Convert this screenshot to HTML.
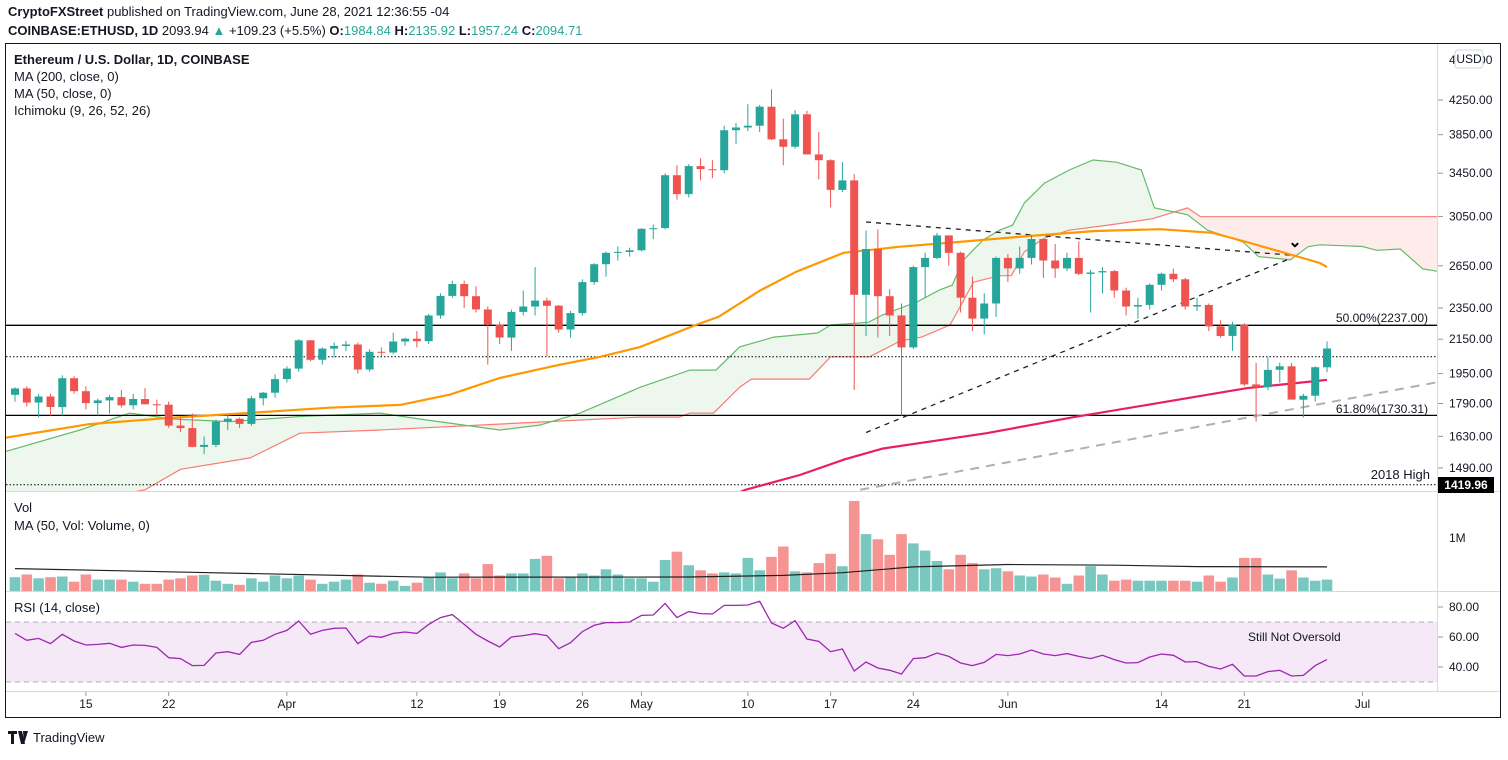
<!DOCTYPE html>
<html><head><meta charset="utf-8"><style>
body{margin:0;background:#fff;width:1508px;height:755px;overflow:hidden;font-family:"Liberation Sans",sans-serif}
svg text{font-family:"Liberation Sans",sans-serif}
</style></head><body>
<svg id="c" width="1508" height="755" xmlns="http://www.w3.org/2000/svg">
<defs>
<clipPath id="mainClip"><rect x="6" y="45" width="1431" height="446"/></clipPath>
<clipPath id="volClip"><rect x="6" y="492" width="1431" height="99"/></clipPath>
</defs>
<rect x="0" y="0" width="1508" height="755" fill="#fff"/>
<text x="8" y="16" font-size="13" fill="#131722"><tspan font-weight="bold">CryptoFXStreet</tspan> published on TradingView.com, June 28, 2021 12:36:55 -04</text>
<text x="8" y="35" font-size="13" fill="#131722"><tspan font-weight="bold">COINBASE:ETHUSD, 1D</tspan> 2093.94 <tspan fill="#26a69a">▲</tspan> +109.23 (+5.5%) <tspan font-weight="bold">O:</tspan><tspan fill="#26a69a">1984.84</tspan> <tspan font-weight="bold">H:</tspan><tspan fill="#26a69a">2135.92</tspan> <tspan font-weight="bold">L:</tspan><tspan fill="#26a69a">1957.24</tspan> <tspan font-weight="bold">C:</tspan><tspan fill="#26a69a">2094.71</tspan></text>
<rect x="5.5" y="43.5" width="1495" height="674" fill="none" stroke="#131722" stroke-width="1"/>
<line x1="1437.5" y1="44" x2="1437.5" y2="691" stroke="#d9d9d9"/>
<line x1="6" y1="491.5" x2="1500" y2="491.5" stroke="#d9d9d9"/>
<line x1="6" y1="591.5" x2="1500" y2="591.5" stroke="#d9d9d9"/>
<line x1="6" y1="691.5" x2="1500" y2="691.5" stroke="#d9d9d9"/>
<g id="cloud" clip-path="url(#mainClip)"></g>
<g id="main" clip-path="url(#mainClip)"></g>
<g id="vol" clip-path="url(#volClip)"></g>
<g id="rsi"></g>
<g id="axes"></g>
<text x="14" y="64" font-size="13" font-weight="bold" fill="#131722">Ethereum / U.S. Dollar, 1D, COINBASE</text>
<text x="14" y="81" font-size="13" fill="#131722">MA (200, close, 0)</text>
<text x="14" y="98" font-size="13" fill="#131722">MA (50, close, 0)</text>
<text x="14" y="115" font-size="13" fill="#131722">Ichimoku (9, 26, 52, 26)</text>
<text x="14" y="512" font-size="13" fill="#131722">Vol</text>
<text x="14" y="530" font-size="13" fill="#131722">MA (50, Vol: Volume, 0)</text>
<text x="14" y="612" font-size="13" fill="#131722">RSI (14, close)</text>
<text x="1248" y="641" font-size="12" fill="#131722">Still Not Oversold</text>
<text x="1428" y="322" font-size="12" text-anchor="end" fill="#131722">50.00%(2237.00)</text>
<text x="1428" y="413" font-size="12" text-anchor="end" fill="#131722">61.80%(1730.31)</text>
<text x="1430" y="479" font-size="13" text-anchor="end" fill="#131722">2018 High</text>
<text x="1295" y="247" font-size="16" font-weight="bold" text-anchor="middle" fill="#000">⌄</text>
<text x="1449" y="64" font-size="12" fill="#131722">4650.00</text>
<rect x="1455" y="50" width="28" height="18" rx="3" fill="#fff" stroke="#d1d4dc"/>
<text x="1469" y="63" font-size="12" text-anchor="middle" fill="#131722">USD</text>
<rect x="1438" y="477" width="56" height="16" fill="#000"/>
<text x="1466" y="489" font-size="12" font-weight="bold" text-anchor="middle" fill="#fff">1419.96</text>
<text x="1449" y="542" font-size="12" fill="#131722">1M</text>
<g>
<path d="M8 731h9v3h-3v10h-3v-10h-3z M18 731h4l3 13h-4z M23 731h5l-4 13z" fill="#131722"/>
<text x="33" y="742" font-size="13" fill="#131722">TradingView</text>
</g>
</svg>
<script>
const days=[...Array(112).keys()];
const opens=[1835,1869,1795,1826,1772,1924,1854,1792,1806,1823,1781,1813,1786,1784,1681,1669,1582,1591,1700,1714,1689,1817,1846,1919,1977,2143,2027,2093,2109,2118,1972,2074,2070,2136,2153,2138,2300,2432,2516,2430,2340,2241,2160,2324,2360,2400,2365,2210,2316,2530,2662,2750,2757,2770,2945,2950,3430,3250,3520,3490,3480,3900,3930,3950,4170,3800,3720,4080,3640,3580,3290,3380,2440,2780,2430,2300,2100,2640,2710,2890,2750,2420,2280,2380,2710,2630,2710,2860,2690,2630,2710,2590,2600,2610,2470,2360,2370,2510,2590,2550,2360,2370,2230,2170,2240,1890,1875,1970,1990,1810,1830,1985];
const highs=[1875,1880,1840,1840,1940,1935,1880,1815,1835,1860,1840,1870,1810,1800,1720,1740,1630,1710,1730,1720,1830,1850,1945,1990,2150,2145,2100,2130,2140,2130,2090,2100,2190,2160,2200,2310,2450,2540,2540,2500,2360,2260,2340,2470,2640,2420,2370,2330,2550,2670,2760,2800,2790,2950,2980,3450,3530,3540,3600,3580,3950,3980,4200,4190,4380,4030,4130,4120,3880,3590,3560,3440,2930,2940,2480,2380,2650,2750,2910,2890,2760,2570,2450,2720,2740,2800,2890,2860,2820,2750,2840,2620,2640,2620,2490,2420,2520,2600,2630,2560,2420,2380,2270,2260,2250,2010,2040,2010,2010,1840,1990,2136];
const lows=[1800,1775,1720,1730,1730,1840,1760,1730,1740,1770,1760,1785,1730,1670,1650,1580,1550,1580,1660,1670,1680,1780,1820,1900,1960,2020,2000,2040,2080,1950,1960,2050,2060,2110,2100,2120,2280,2420,2350,2320,2000,2120,2080,2300,2300,2050,2190,2160,2300,2510,2570,2690,2720,2760,2860,2940,3200,3220,3380,3400,3450,3750,3890,3880,3790,3530,3700,3640,3390,3130,3270,1860,2170,2160,2170,1730,2090,2420,2700,2650,2320,2200,2180,2290,2530,2590,2660,2560,2560,2610,2580,2320,2450,2420,2300,2280,2340,2470,2530,2340,2330,2200,2160,2080,1880,1700,1860,1900,1810,1720,1800,1957];
const closes=[1869,1795,1826,1772,1924,1854,1792,1806,1823,1781,1813,1786,1784,1681,1669,1582,1591,1700,1714,1689,1817,1846,1919,1977,2143,2027,2093,2109,2118,1972,2074,2070,2136,2153,2138,2300,2432,2516,2430,2340,2241,2160,2324,2360,2400,2365,2210,2316,2530,2662,2750,2757,2770,2945,2950,3430,3250,3520,3490,3480,3900,3930,3950,4170,3800,3720,4080,3640,3580,3290,3380,2440,2780,2430,2300,2100,2640,2710,2890,2750,2420,2280,2380,2710,2630,2710,2860,2690,2630,2710,2590,2600,2610,2470,2360,2370,2510,2590,2550,2360,2370,2230,2170,2240,1890,1875,1970,1990,1810,1830,1985,2094];
const volumes=[265,318,245,265,278,179,318,219,219,219,179,139,139,219,245,298,312,199,139,119,245,179,298,245,298,219,139,179,219,318,159,139,199,99,159,265,358,245,338,245,517,298,338,338,617,676,245,278,338,298,418,318,245,245,179,597,756,497,398,338,358,338,637,398,656,855,378,358,537,716,477,1730,1094,995,696,1094,915,776,577,418,696,537,418,438,378,298,278,318,259,139,298,477,318,199,219,199,199,199,199,199,179,298,179,259,637,637,318,239,398,259,199,219];
const volMaDays=[0,15,35,57,65,70,76,84,93,100,111];
const volMaValues=[431,360,265,270,300,351,464,510,497,470,464];
const rsiValues=[62.4,57.8,59.1,55.6,61.8,57.3,54.7,55.1,55.8,53.1,54.7,54.4,53.1,46.2,45.6,40.9,41.1,49.3,50.2,48.4,56.4,57.8,61.8,64.4,70.7,61.8,64.4,65.8,66,55.6,60.7,59.8,62.4,63.3,62.4,68.4,72.9,74.9,68.4,61.8,57.3,53.3,60,60.9,62.2,60.9,52.2,56.2,63.6,67.8,69.6,69.6,70,74.4,74.7,82.4,72.9,76.9,75.6,75.3,81.1,81.1,81.3,83.8,69.3,65.8,70.9,58.7,57.1,50.2,52,37.3,43.3,39.3,37.8,35.3,45.6,46.2,49.3,47.1,42.7,40.9,43.1,48.4,47.6,48.7,51.3,48.7,47.6,48.9,47.1,45.6,47.8,44.9,42.7,42.9,46.7,48.7,47.8,43.3,43.6,40.4,38.7,41.8,34,34,36.9,37.8,34,34.4,40.9,44.9];
const spanADays=[-1,5.5,9.7,13.5,18.2,24.1,30.9,34.3,41,44.4,47.8,52.9,57.1,59.3,61.3,64.2,67.9,69,72.2,73.4,76.4,78.2,79.3,80.2,81.9,83.3,84.4,85.4,87.1,89.2,91.2,93.2,95.3,96.4,99.2,100.9,103.9,105.2,107.9,109.4,110.4,114,115.2,117.2,119.1,121];
const spanAValues=[1558,1660,1742,1712,1700,1725,1742,1712,1660,1683,1742,1875,1969,1969,2103,2163,2188,2239,2256,2304,2394,2473,2508,2690,2852,2933,2976,3170,3354,3482,3582,3560,3482,3125,3065,2933,2836,2720,2695,2798,2813,2800,2770,2780,2627,2600];
const spanBDays=[-1,11,14,19.9,24.1,30.9,52.9,56.2,57.1,59.1,61.3,62.3,67.2,69,72.3,74.9,76.7,79.1,80.2,81.1,83.3,84.3,85.4,87.1,89.2,92.5,96.2,99.2,100.3,121];
const spanBValues=[1300,1400,1484,1533,1645,1660,1722,1722,1742,1742,1875,1919,1919,2045,2045,2139,2163,2239,2394,2530,2576,2576,2758,2868,2933,2976,3030,3125,3048,3048];
const ma50Days=[-1,6.3,13.1,19.9,26.6,32.6,36.8,41,46.1,49.5,52.9,57.6,59.5,63.1,66.1,70.1,74.9,80.8,85.9,91.4,96.9,101.3,104.2,110.4,111];
const ma50Values=[1622,1688,1718,1743,1769,1783,1836,1925,1999,2045,2103,2239,2291,2473,2606,2750,2798,2844,2886,2926,2941,2911,2836,2671,2641];
const ma200Days=[58,61.8,66.4,70.2,73.4,82.2,89.6,96.9,104.2,110.4,111];
const ma200Values=[1330,1400,1460,1527,1574,1645,1722,1794,1870,1911,1915];
const hLevels=[2237,1730.31];
const dottedLevels=[2045,1419.96];
const priceTicks=[4250,3850,3450,3050,2650,2350,2150,1950,1790,1630,1490];
const rsiTicks=[80,60,40];
const dateDays=[6,13,23,34,41,48,53,62,69,76,84,97,104,114];
const dateLabels=["15","22","Apr","12","19","26","May","10","17","24","Jun","14","21","Jul"];
const trendDown=[[72,3002],[107.9,2732]];
const trendUp=[[72,1648],[107.9,2706]];
const trendGray=[[71.5,1400],[120.4,1903]];

const NS="http://www.w3.org/2000/svg";
const X=d=>15+d*11.82;
const Y=p=>100+(Math.log(4250)-Math.log(p))*351;
const VY=v=>591-v*0.052;
const RY=r=>607+(80-r)*1.5;
function mk(tag,attrs,parent){const el=document.createElementNS(NS,tag);for(const k in attrs)el.setAttribute(k,attrs[k]);parent.appendChild(el);return el;}
const G=id=>document.getElementById(id);
function pts(ds,vs,fy){return ds.map((d,i)=>X(d).toFixed(1)+","+fy(vs[i]).toFixed(1)).join(" ");}
const cloud=G('cloud'),main=G('main'),vol=G('vol'),rsi=G('rsi'),axes=G('axes');
let e;
function interp(ds,vs,d){if(d<=ds[0])return vs[0];for(let i=1;i<ds.length;i++){if(d<=ds[i]){const t=(d-ds[i-1])/(ds[i]-ds[i-1]);return vs[i-1]+t*(vs[i]-vs[i-1]);}}return vs[vs.length-1];}
// cloud fill as polygons per same-sign run
let run=null;
function flush(){
  if(!run||run.a.length<2)return;
  const p=run.a.map(q=>q.join(',')).concat(run.b.slice().reverse().map(q=>q.join(','))).join(' ');
  e=mk('polygon',{points:p,fill:run.green?'rgba(76,175,80,0.1)':'rgba(244,67,54,0.1)',stroke:'none'},cloud);
  
  
}
for(let d=-1;d<=121;d+=0.25){
  const a=interp(spanADays,spanAValues,d),b=interp(spanBDays,spanBValues,d);
  const g=a>=b,xa=X(d).toFixed(1);
  if(!run||run.green!==g){
    const prev=run;flush();
    run={green:g,a:[],b:[]};
    if(prev){const last=prev.a[prev.a.length-1];run.a.push(last);run.b.push(prev.b[prev.b.length-1]);}
  }
  run.a.push([xa,Y(a).toFixed(1)]);run.b.push([xa,Y(b).toFixed(1)]);
}
flush();
e=mk('polyline',{points:pts(spanBDays,spanBValues,Y),fill:'none',stroke:'#f77c74','stroke-width':1.2},main);


e=mk('polyline',{points:pts(spanADays,spanAValues,Y),fill:'none',stroke:'#66bb6a','stroke-width':1.2},main);



hLevels.forEach(p=>{e=mk('line',{x1:6,x2:1437,y1:Y(p).toFixed(1),y2:Y(p).toFixed(1),stroke:'#000','stroke-width':1.3},main);

});
dottedLevels.forEach(p=>{e=mk('line',{x1:6,x2:1437,y1:Y(p).toFixed(1),y2:Y(p).toFixed(1),stroke:'#000','stroke-width':1,'stroke-dasharray':'1.5,2'},main);

});

[[trendDown,'#222','5,5','trendline-descending'],[trendUp,'#222','5,5','trendline-ascending'],[trendGray,'#b0b0b0','9,7','trendline-support']].forEach(t=>{
  e=mk('line',{x1:X(t[0][0][0]),y1:Y(t[0][0][1]),x2:X(t[0][1][0]),y2:Y(t[0][1][1]),stroke:t[1],'stroke-width':t[3]==='trendline-support'?2:1.3,'stroke-dasharray':t[2]},main);
  
  
});

e=mk('polyline',{points:pts(ma50Days,ma50Values,Y),fill:'none',stroke:'#ff9800','stroke-width':2.2},main);


e=mk('polyline',{points:pts(ma200Days,ma200Values,Y),fill:'none',stroke:'#e91e63','stroke-width':2.2},main);



days.forEach(i=>{
  const up=closes[i]>=opens[i],col=up?'#26a69a':'#ef5350',x=X(i);
  e=mk('line',{x1:x,x2:x,y1:Y(highs[i]).toFixed(1),y2:Y(lows[i]).toFixed(1),stroke:col,'stroke-width':1},main);
  
  
  const t=Y(Math.max(opens[i],closes[i])),b=Y(Math.min(opens[i],closes[i]));
  e=mk('rect',{x:(x-4).toFixed(1),y:t.toFixed(1),width:8,height:Math.max(1,b-t).toFixed(1),fill:col},main);
  
  
  e=mk('rect',{x:(x-5.3).toFixed(1),y:VY(volumes[i]).toFixed(1),width:10.6,height:(591-VY(volumes[i])).toFixed(1),fill:up?'rgba(38,166,154,0.62)':'rgba(239,83,80,0.62)'},vol);
  
  
});
e=mk('polyline',{points:pts(volMaDays,volMaValues,VY),fill:'none',stroke:'#222','stroke-width':1.2},vol);



e=mk('rect',{x:6,y:RY(70),width:1431,height:RY(30)-RY(70),fill:'rgba(156,39,176,0.1)'},rsi);


[70,30].forEach(v=>{e=mk('line',{x1:6,x2:1437,y1:RY(v),y2:RY(v),stroke:'#b6a8bd','stroke-dasharray':'5,4'},rsi);

});
e=mk('polyline',{points:pts(days,rsiValues,RY),fill:'none',stroke:'#9c27b0','stroke-width':1.3},rsi);



priceTicks.forEach(p=>{const y=Y(p);
  mk('line',{x1:1438,x2:1443,y1:y,y2:y,stroke:'#999'},axes);
  e=mk('text',{x:1449,y:(y+4).toFixed(1),'font-size':12,fill:'#131722'},axes);e.textContent=p.toFixed(2);
  
  });
rsiTicks.forEach(r=>{const y=RY(r);
  mk('line',{x1:1438,x2:1443,y1:y,y2:y,stroke:'#999'},axes);
  e=mk('text',{x:1449,y:(y+4).toFixed(1),'font-size':12,fill:'#131722'},axes);e.textContent=r.toFixed(2);
  
  });
dateDays.forEach((d,i)=>{const x=X(d);
  mk('line',{x1:x,x2:x,y1:692,y2:696,stroke:'#999'},axes);
  e=mk('text',{x:x.toFixed(1),y:708,'font-size':12,'text-anchor':'middle',fill:'#131722'},axes);e.textContent=dateLabels[i];
  
  });
</script>
</body></html>
